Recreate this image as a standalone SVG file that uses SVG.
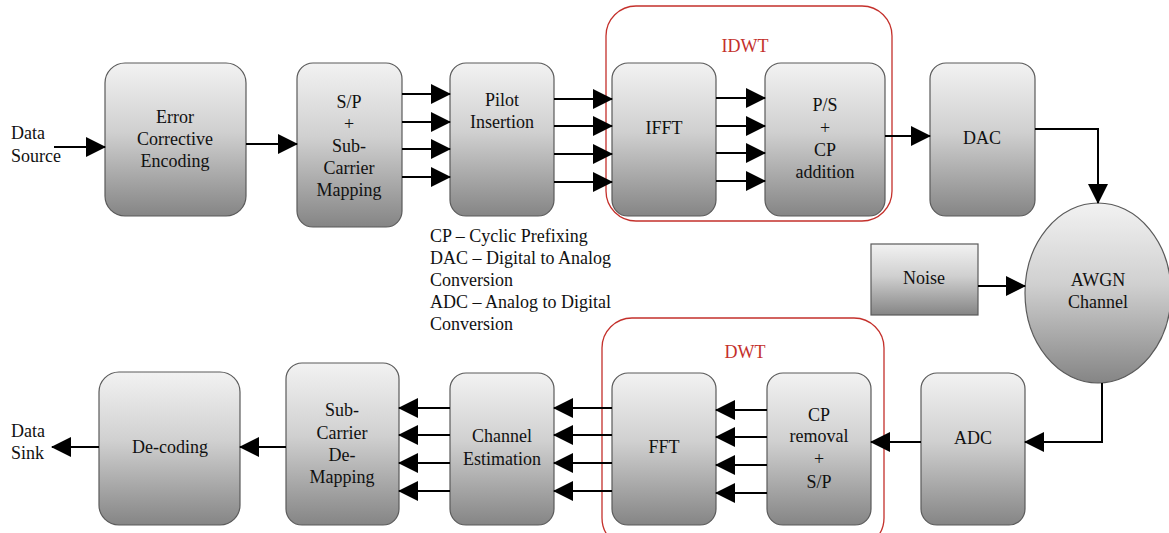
<svg xmlns="http://www.w3.org/2000/svg" width="1169" height="533" viewBox="0 0 1169 533">
<defs>
<linearGradient id="g" x1="0" y1="0" x2="0" y2="1">
<stop offset="0" stop-color="#f2f2f2"/>
<stop offset="0.45" stop-color="#d0d0d0"/>
<stop offset="1" stop-color="#858585"/>
</linearGradient>
<marker id="arr" viewBox="0 0 20 20" refX="19" refY="10" markerWidth="20" markerHeight="20" markerUnits="userSpaceOnUse" orient="auto">
<path d="M0,0 L20,10 L0,20 z" fill="#000"/>
</marker>
<style>
.box{fill:url(#g);stroke:#5a5a5a;stroke-width:1.2}
.grp{fill:none;stroke:#c4302b;stroke-width:1.3}
.t{font-family:"Liberation Serif",serif;font-size:18px;fill:#111;text-anchor:middle}
.tl{font-family:"Liberation Serif",serif;font-size:18px;fill:#111}
.red{font-family:"Liberation Serif",serif;font-size:18px;fill:#c4302b;text-anchor:middle}
.c{fill:none;stroke:#000;stroke-width:2;marker-end:url(#arr)}
</style>
</defs>
<rect width="1169" height="533" fill="#fff"/>

<g id="idwt">
<rect class="grp" x="606" y="6" width="286" height="215" rx="30"/>
<text class="red" x="745" y="52">IDWT</text>
</g>
<g id="dwt">
<rect class="grp" x="602" y="318" width="282" height="230" rx="30"/>
<text class="red" x="745" y="358">DWT</text>
</g>

<g id="src"><text class="tl" x="11" y="139">Data</text><text class="tl" x="11" y="162">Source</text></g>
<g id="sink"><text class="tl" x="11" y="437">Data</text><text class="tl" x="11" y="459">Sink</text></g>

<g id="ece"><rect class="box" x="105" y="63" width="141" height="153" rx="20"/>
<text class="t" x="175" y="123">Error</text><text class="t" x="175" y="145">Corrective</text><text class="t" x="175" y="167">Encoding</text></g>
<g id="sp"><rect class="box" x="297" y="63" width="105" height="164" rx="16"/>
<text class="t" x="349" y="108">S/P</text><text class="t" x="349" y="130">+</text><text class="t" x="349" y="152">Sub-</text><text class="t" x="349" y="174">Carrier</text><text class="t" x="349" y="196">Mapping</text></g>
<g id="pilot"><rect class="box" x="450" y="63" width="104" height="153" rx="16"/>
<text class="t" x="502" y="106">Pilot</text><text class="t" x="502" y="128">Insertion</text></g>
<g id="ifft"><rect class="box" x="612" y="63" width="104" height="153" rx="16"/>
<text class="t" x="664" y="134">IFFT</text></g>
<g id="ps"><rect class="box" x="765" y="63" width="120" height="153" rx="16"/>
<text class="t" x="825" y="111">P/S</text><text class="t" x="825" y="134">+</text><text class="t" x="825" y="156">CP</text><text class="t" x="825" y="178">addition</text></g>
<g id="dac"><rect class="box" x="930" y="63" width="105" height="153" rx="16"/>
<text class="t" x="982" y="144">DAC</text></g>
<g id="awgn"><ellipse class="box" cx="1098" cy="293" rx="73" ry="90"/>
<text class="t" x="1098" y="286">AWGN</text><text class="t" x="1098" y="308">Channel</text></g>
<g id="noise"><rect class="box" x="871" y="244" width="107" height="71"/>
<text class="t" x="924" y="284">Noise</text></g>

<g id="legend">
<text class="tl" x="430" y="242">CP – Cyclic Prefixing</text>
<text class="tl" x="430" y="264">DAC – Digital to Analog</text>
<text class="tl" x="430" y="286">Conversion</text>
<text class="tl" x="430" y="308">ADC – Analog to Digital</text>
<text class="tl" x="430" y="330">Conversion</text>
</g>

<g id="adc"><rect class="box" x="921" y="373" width="104" height="152" rx="16"/>
<text class="t" x="973" y="444">ADC</text></g>
<g id="cpr"><rect class="box" x="767" y="373" width="104" height="152" rx="16"/>
<text class="t" x="819" y="421">CP</text><text class="t" x="819" y="442">removal</text><text class="t" x="819" y="465">+</text><text class="t" x="819" y="488">S/P</text></g>
<g id="fft"><rect class="box" x="612" y="373" width="104" height="152" rx="16"/>
<text class="t" x="664" y="453">FFT</text></g>
<g id="ce"><rect class="box" x="450" y="373" width="104" height="152" rx="16"/>
<text class="t" x="502" y="442">Channel</text><text class="t" x="502" y="465">Estimation</text></g>
<g id="scdm"><rect class="box" x="286" y="363" width="113" height="162" rx="16"/>
<text class="t" x="342" y="416">Sub-</text><text class="t" x="342" y="439">Carrier</text><text class="t" x="342" y="461">De-</text><text class="t" x="342" y="483">Mapping</text></g>
<g id="dec"><rect class="box" x="99" y="372" width="141" height="153" rx="20"/>
<text class="t" x="170" y="453">De-coding</text></g>

<g id="connectors">
<path class="c" d="M54,147 H105"/>
<path class="c" d="M246,144 H297"/>
<path class="c" d="M402,94 H450"/>
<path class="c" d="M402,122 H450"/>
<path class="c" d="M402,149 H450"/>
<path class="c" d="M402,177 H450"/>
<path class="c" d="M554,99 H612"/>
<path class="c" d="M554,126 H612"/>
<path class="c" d="M554,154 H612"/>
<path class="c" d="M554,182 H612"/>
<path class="c" d="M716,98 H765"/>
<path class="c" d="M716,126 H765"/>
<path class="c" d="M716,153 H765"/>
<path class="c" d="M716,181 H765"/>
<path class="c" d="M885,136 H930"/>
<path class="c" d="M1035,129 H1098 V203"/>
<path class="c" d="M978,286 H1025"/>
<path class="c" d="M1102,383 V442 H1025"/>
<path class="c" d="M921,442 H871"/>
<path class="c" d="M767,410 H716"/>
<path class="c" d="M767,437 H716"/>
<path class="c" d="M767,465 H716"/>
<path class="c" d="M767,493 H716"/>
<path class="c" d="M612,408 H554"/>
<path class="c" d="M612,435 H554"/>
<path class="c" d="M612,463 H554"/>
<path class="c" d="M612,491 H554"/>
<path class="c" d="M450,408 H399"/>
<path class="c" d="M450,435 H399"/>
<path class="c" d="M450,463 H399"/>
<path class="c" d="M450,491 H399"/>
<path class="c" d="M286,447 H240"/>
<path class="c" d="M99,447 H52"/>
</g>
</svg>
